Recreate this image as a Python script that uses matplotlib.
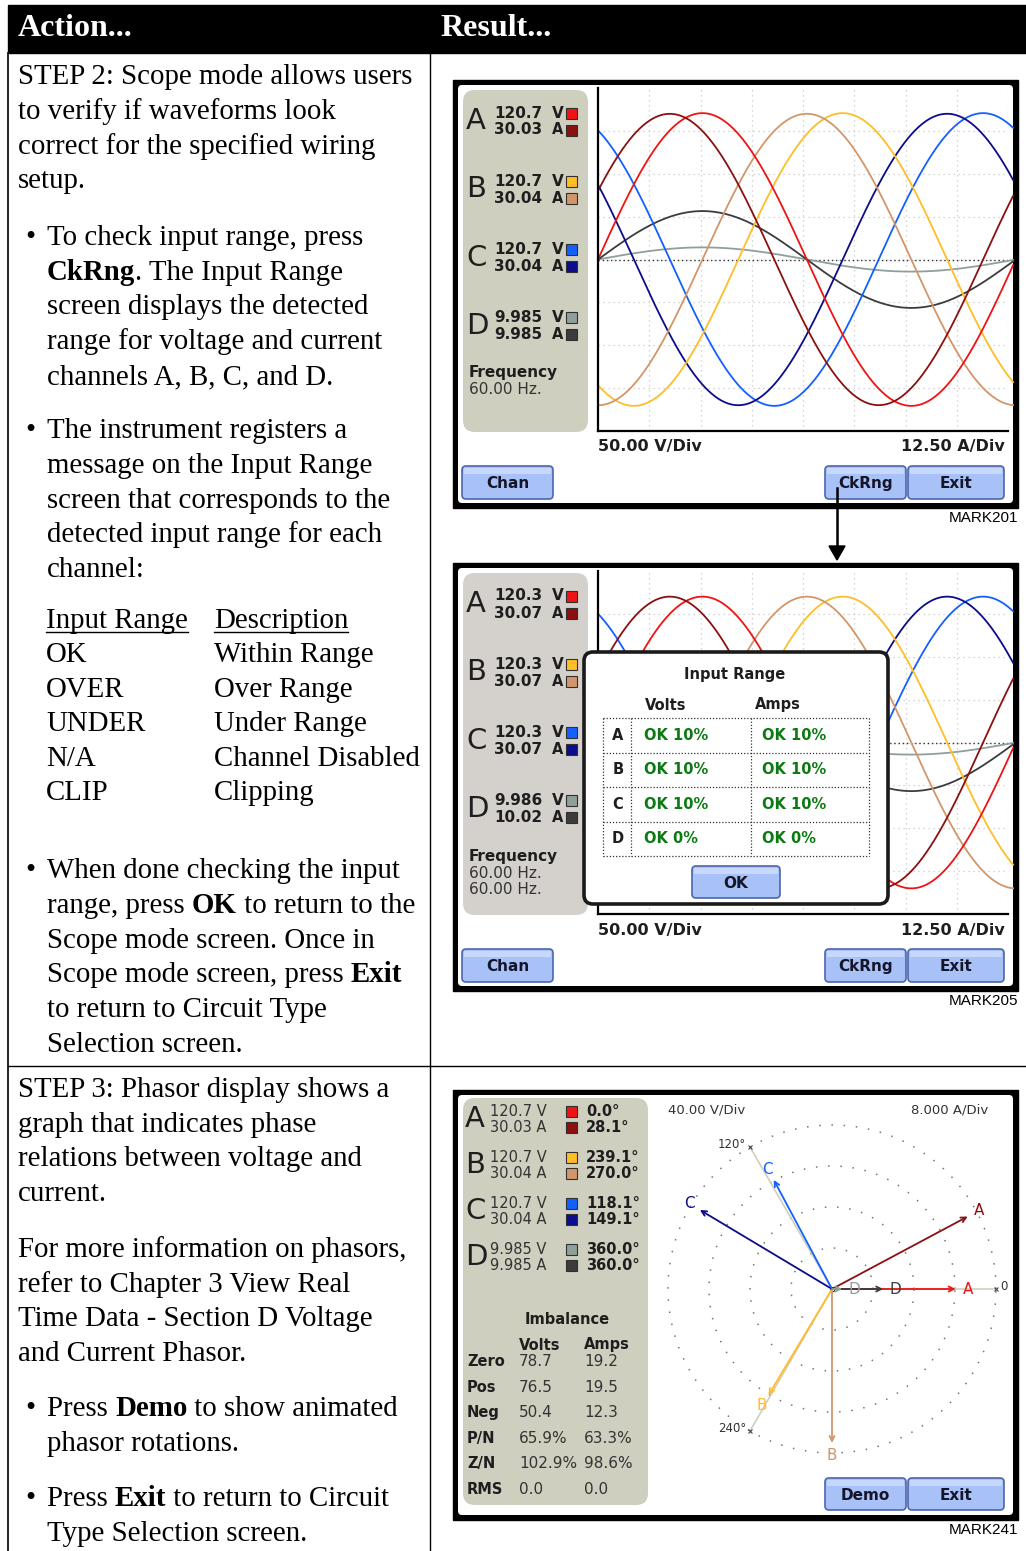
"""Manual page: scope / input range / phasor screens with the action text column."""
import numpy as np
import matplotlib.pyplot as plt
from matplotlib.patches import Rectangle, FancyBboxPatch

W, H = 1026, 1551
SERIF = "Liberation Serif"
SCREEN = "DejaVu Sans"
BODY = 20.8

# ---- action column text ----
STEP2_INTRO = ["STEP 2: Scope mode allows users", "to verify if waveforms look",
               "correct for the specified wiring", "setup."]
BULLET_CKRNG = [[("To check input range, press", False)],
                [("CkRng", True), (". The Input Range", False)],
                "screen displays the detected", "range for voltage and current",
                "channels A, B, C, and D."]
BULLET_MSG = ["The instrument registers a", "message on the Input Range",
              "screen that corresponds to the", "detected input range for each", "channel:"]
RANGE_CODES = ["OK", "OVER", "UNDER", "N/A", "CLIP"]
RANGE_DESC = ["Within Range", "Over Range", "Under Range", "Channel Disabled", "Clipping"]
BULLET_DONE = ["When done checking the input",
               [("range, press ", False), ("OK", True), (" to return to the", False)],
               "Scope mode screen. Once in",
               [("Scope mode screen, press ", False), ("Exit", True)],
               "to return to Circuit Type", "Selection screen."]
STEP3_INTRO = ["STEP 3: Phasor display shows a", "graph that indicates phase",
               "relations between voltage and", "current."]
STEP3_MORE = ["For more information on phasors,", "refer to Chapter 3 View Real",
              "Time Data - Section D Voltage", "and Current Phasor."]
BULLET_DEMO = [[("Press ", False), ("Demo", True), (" to show animated", False)], "phasor rotations."]
BULLET_EXIT = [[("Press ", False), ("Exit", True), (" to return to Circuit", False)],
               "Type Selection screen."]

# ---- instrument readings ----
CHANNELS = ["A", "B", "C", "D"]
SCOPE1_VOLTS = ["120.7", "120.7", "120.7", "9.985"]
SCOPE1_AMPS = ["30.03", "30.04", "30.04", "9.985"]
SCOPE2_VOLTS = ["120.3", "120.3", "120.3", "9.986"]
SCOPE2_AMPS = ["30.07", "30.07", "30.07", "10.02"]
V_ANGLE = [0.0, 239.1, 118.1, 360.0]
I_ANGLE = [28.1, 270.0, 149.1, 360.0]
SCOPE_V_DIV, SCOPE_A_DIV = 50.0, 12.50
PHASOR_V_DIV, PHASOR_A_DIV = 40.0, 8.000
RANGE_VOLTS = ["OK 10%", "OK 10%", "OK 10%", "OK 0%"]
RANGE_AMPS = ["OK 10%", "OK 10%", "OK 10%", "OK 0%"]
IMB_ROWS = ["Zero", "Pos", "Neg", "P/N", "Z/N", "RMS"]
IMB_VOLTS = ["78.7", "76.5", "50.4", "65.9%", "102.9%", "0.0"]
IMB_AMPS = ["19.2", "19.5", "12.3", "63.3%", "98.6%", "0.0"]

V_COLORS = ["#ee1414", "#ffbe28", "#1460ff", "#8fa09c"]
I_COLORS = ["#8c1010", "#d2966a", "#0c0c8c", "#3c3c3c"]
TXT = "#1e1e1e"

fig = plt.figure(figsize=(W / 100, H / 100), dpi=100)
page = fig.add_axes([0, 0, 1, 1])
page.set_xlim(0, W); page.set_ylim(H, 0); page.axis("off")


def px_axes(x0, y0, x1, y1):
    return fig.add_axes([x0 / W, 1 - y1 / H, (x1 - x0) / W, (y1 - y0) / H])


renderer = fig.canvas.get_renderer()


def rich(ax, x, y, parts, size=BODY):
    if isinstance(parts, str):
        parts = [(parts, False)]
    for s, bold in parts:
        t = ax.text(x, y, s, fontsize=size, family=SERIF, color="black",
                    fontweight="bold" if bold else "normal", va="baseline")
        x += t.get_window_extent(renderer=renderer).width
    return x


def block(lines, y0, x=18, bullet=False, step=34.75):
    if bullet:
        page.text(25, y0, "\u2022", fontsize=BODY, family=SERIF, va="baseline")
        x = 47
    for i, ln in enumerate(lines):
        rich(page, x, y0 + i * step, ln)


# ---- table frame ----
page.add_patch(Rectangle((8, 5), W - 8, 48, color="black"))
page.text(18, 29, "Action...", color="white", fontsize=23, fontweight="bold",
          family=SERIF, va="center")
page.text(440, 29, "Result...", color="white", fontsize=23, fontweight="bold",
          family=SERIF, va="center")
page.plot([8, 8], [53, H], color="black", lw=1.2)
page.plot([430, 430], [53, H], color="black", lw=1.0)
page.plot([8, W], [1066, 1066], color="black", lw=1.0)

block(STEP2_INTRO, 84)
block(BULLET_CKRNG, 245, bullet=True)
block(BULLET_MSG, 438, bullet=True)
x_end = rich(page, 46, 628, "Input Range")
page.plot([46, x_end], [632, 632], color="black", lw=1)
x_end = rich(page, 214, 628, "Description")
page.plot([214, x_end], [632, 632], color="black", lw=1)
for i, (c, d) in enumerate(zip(RANGE_CODES, RANGE_DESC)):
    rich(page, 46, 662 + i * 34.6, c)
    rich(page, 214, 662 + i * 34.6, d)
block(BULLET_DONE, 878, bullet=True)
block(STEP3_INTRO, 1097)
block(STEP3_MORE, 1257)
block(BULLET_DEMO, 1416, bullet=True)
block(BULLET_EXIT, 1506, bullet=True)


# ---- screen helpers ----
def rounded(ax, x0, y0, x1, y1, r, **kw):
    ax.add_patch(FancyBboxPatch((x0 + r, y0 + r), x1 - x0 - 2 * r, y1 - y0 - 2 * r,
                                boxstyle=f"round,pad={r}", **kw))


def frame(y0, y1, mark):
    page.add_patch(Rectangle((453, y0), 565, y1 - y0, color="black"))
    rounded(page, 458, y0 + 5, 1013, y1 - 5, 4, fc="white", ec="none")
    page.text(1018, y1 + 10, mark, ha="right", va="center", fontsize=11,
              family="Liberation Sans")


def button(ax, x0, y0, x1, y1, label):
    rounded(ax, x0, y0, x1, y1, 4, fc="#a8c1f7", ec="#4d66ac", lw=1.2)
    ax.add_patch(Rectangle((x0 + 2, y0 + 2), x1 - x0 - 4, 6, fc="#c8d8fc", ec="none"))
    ax.text((x0 + x1) / 2, (y0 + y1) / 2 + 1, label, ha="center", va="center",
            fontsize=11, fontweight="bold", family=SCREEN, color="#15152a")


def swatch(ax, x, yc, color):
    ax.add_patch(Rectangle((x, yc - 5.5), 11, 11, fc=color, ec="#303030", lw=0.8))


def scope_screen(y0, volts, amps, mark, panel_color, freq_lines):
    frame(y0, y0 + 428, mark)
    rounded(page, 463, y0 + 10, 588, y0 + 352, 12, fc=panel_color, ec="none")
    for k, ch in enumerate(CHANNELS):
        yv = y0 + 33 + k * 68.3
        page.text(466, yv + 8, ch, fontsize=21, family=SCREEN, color=TXT, va="center")
        page.text(494, yv, volts[k], fontsize=11, fontweight="bold", family=SCREEN,
                  color=TXT, va="center")
        page.text(494, yv + 17, amps[k], fontsize=11, fontweight="bold", family=SCREEN,
                  color=TXT, va="center")
        page.text(552, yv, "V", fontsize=11, fontweight="bold", family=SCREEN,
                  color=TXT, va="center")
        page.text(552, yv + 17, "A", fontsize=10.5, fontweight="bold", family=SCREEN,
                  color=TXT, va="center")
        swatch(page, 566, yv, V_COLORS[k])
        swatch(page, 566, yv + 17, I_COLORS[k])
    page.text(469, y0 + 293, "Frequency", fontsize=11, fontweight="bold",
              family=SCREEN, color=TXT, va="center")
    for j, fl in enumerate(freq_lines):
        page.text(469, y0 + 310 + j * 17, fl, fontsize=11, family=SCREEN,
                  color="#333333", va="center")
    page.text(598, y0 + 367, f"{SCOPE_V_DIV:.2f} V/Div", fontsize=11.5,
              fontweight="bold", family=SCREEN, color=TXT, va="center")
    page.text(1005, y0 + 367, f"{SCOPE_A_DIV:.2f} A/Div", fontsize=11.5,
              fontweight="bold", family=SCREEN, color=TXT, va="center", ha="right")
    button(page, 462, y0 + 386, 553, y0 + 419, "Chan")
    button(page, 825, y0 + 386, 906, y0 + 419, "CkRng")
    button(page, 908, y0 + 386, 1004, y0 + 419, "Exit")

    ax = px_axes(598, y0 + 8, 1008, y0 + 351)
    ax.set_xlim(0, 8); ax.set_ylim(-4, 4)
    ax.set_xticks(np.arange(1, 9)); ax.set_yticks(np.arange(-3, 4))
    ax.tick_params(length=0, labelbottom=False, labelleft=False)
    ax.grid(True, color="#c8c8c8", ls=(0, (1, 3)), lw=0.9)
    for s in ("top", "right"):
        ax.spines[s].set_visible(False)
    for s in ("left", "bottom"):
        ax.spines[s].set_linewidth(1.6)
    ax.axhline(0, color="#333333", ls=(0, (1, 2)), lw=1)
    t = np.linspace(0, 8.1, 500)
    period = 8.15  # divisions per 60 Hz cycle
    for k in (3, 2, 1, 0):
        for val, ang, scale, col in ((float(volts[k]), V_ANGLE[k], SCOPE_V_DIV, V_COLORS[k]),
                                     (float(amps[k]), I_ANGLE[k], SCOPE_A_DIV, I_COLORS[k])):
            ax.plot(t, np.sqrt(2) * val / scale *
                    np.sin(2 * np.pi * t / period + np.radians(ang)),
                    color=col, lw=1.3, clip_on=False)
    return ax


scope_screen(80, SCOPE1_VOLTS, SCOPE1_AMPS, "MARK201", "#cfcfc0", ["60.00 Hz."])
scope_screen(563, SCOPE2_VOLTS, SCOPE2_AMPS, "MARK205", "#d4d0cc",
             ["60.00 Hz.", "60.00 Hz."])

# arrow between screens
page.plot([837, 837], [488, 548], color="black", lw=1.8)
page.fill([829, 845, 837], [546, 546, 560], color="black")

# ---- phasor screen ----
Y3 = 1090
frame(Y3, Y3 + 430, "MARK241")
rounded(page, 463, Y3 + 8, 648, Y3 + 415, 12, fc="#cfcfc0", ec="none")
for k, ch in enumerate(CHANNELS):
    yv = Y3 + 21 + k * 46
    page.text(465, yv + 8, ch, fontsize=21, family=SCREEN, color=TXT, va="center")
    page.text(490, yv, f"{SCOPE1_VOLTS[k]} V", fontsize=10.5, family=SCREEN,
              color="#333333", va="center")
    page.text(490, yv + 16, f"{SCOPE1_AMPS[k]} A", fontsize=10.5, family=SCREEN,
              color="#333333", va="center")
    swatch(page, 566, yv, V_COLORS[k])
    swatch(page, 566, yv + 16, I_COLORS[k])
    page.text(586, yv, f"{V_ANGLE[k]:.1f}\u00b0", fontsize=10.5, fontweight="bold",
              family=SCREEN, color=TXT, va="center")
    page.text(586, yv + 16, f"{I_ANGLE[k]:.1f}\u00b0", fontsize=10.5, fontweight="bold",
              family=SCREEN, color=TXT, va="center")
page.text(567, Y3 + 230, "Imbalance", fontsize=10.5, fontweight="bold", family=SCREEN,
          color=TXT, va="center", ha="center")
page.text(519, Y3 + 255, "Volts", fontsize=10.5, fontweight="bold", family=SCREEN,
          color=TXT, va="center")
page.text(584, Y3 + 255, "Amps", fontsize=10.5, fontweight="bold", family=SCREEN,
          color=TXT, va="center")
for i, (r, v, a) in enumerate(zip(IMB_ROWS, IMB_VOLTS, IMB_AMPS)):
    yy = Y3 + 272 + i * 25.4
    page.text(467, yy, r, fontsize=10.5, fontweight="bold", family=SCREEN, color=TXT,
              va="center")
    page.text(519, yy, v, fontsize=11, family=SCREEN, color="#333333", va="center")
    page.text(584, yy, a, fontsize=11, family=SCREEN, color="#333333", va="center")
page.text(668, Y3 + 20, f"{PHASOR_V_DIV:.2f} V/Div", fontsize=9.5, family=SCREEN,
          color="#333333", va="center")
page.text(988, Y3 + 20, f"{PHASOR_A_DIV:.3f} A/Div", fontsize=9.5, family=SCREEN,
          color="#333333", va="center", ha="right")
button(page, 825, Y3 + 388, 906, Y3 + 420, "Demo")
button(page, 908, Y3 + 388, 1004, Y3 + 420, "Exit")

cx, cy, half = 832, 1289, 180
div_px = 41.0
pax = px_axes(cx - half, cy - half, cx + half, cy + half)
R = half / div_px
pax.set_xlim(-R, R); pax.set_ylim(-R, R); pax.axis("off")
th = np.linspace(0, 2 * np.pi, 400)
for ring in (1, 2, 3, 4):
    pax.plot(ring * np.cos(th), ring * np.sin(th), color="#777777",
             ls=(0, (1, 7)), lw=1.1)
for ang, lab, ha in ((0, "0", "left"), (120, "120\u00b0", "right"), (240, "240\u00b0", "right")):
    c, s = np.cos(np.radians(ang)), np.sin(np.radians(ang))
    pax.plot([0, 4 * c], [0, 4 * s], color="#cfcfbc", lw=1.2)
    pax.plot(4 * c, 4 * s, marker="x", ms=3, color="#444444", mew=0.8)
    pax.text(4 * c + (0.1 if ha == "left" else -0.1), 4 * s + 0.05, lab, fontsize=8.5,
             family=SCREEN, color="#333333", ha=ha, va="center")
for k, ch in enumerate(CHANNELS):
    for val, ang, scale, col in ((float(SCOPE1_AMPS[k]), I_ANGLE[k], PHASOR_A_DIV, I_COLORS[k]),
                                 (float(SCOPE1_VOLTS[k]), V_ANGLE[k], PHASOR_V_DIV, V_COLORS[k])):
        m = val / scale
        c, s = np.cos(np.radians(ang)), np.sin(np.radians(ang))
        pax.annotate("", xy=(m * c, m * s), xytext=(0, 0),
                     arrowprops=dict(arrowstyle="->", color=col, lw=1.3,
                                     shrinkA=0, shrinkB=0, mutation_scale=9))
        pax.text((m + 0.3) * c, (m + 0.3) * s, ch, fontsize=11, family=SCREEN,
                 color=col, ha="center", va="center")
pax.plot(0, 0, marker="s", ms=3, mfc="none", mec="#333333", mew=0.8)

# ---- input range dialog over the second scope screen ----
top = fig.add_axes([0, 0, 1, 1])
top.set_xlim(0, W); top.set_ylim(H, 0); top.axis("off")
rounded(top, 584, 652, 888, 904, 9, fc="white", ec="#1a1a1a", lw=2.6)
top.text(735, 675, "Input Range", fontsize=10.5, fontweight="bold", family=SCREEN,
         color=TXT, ha="center", va="center")
top.text(666, 705, "Volts", fontsize=10.5, fontweight="bold", family=SCREEN,
         color=TXT, ha="center", va="center")
top.text(778, 705, "Amps", fontsize=10.5, fontweight="bold", family=SCREEN,
         color=TXT, ha="center", va="center")
rows_y = [718, 752.5, 787, 821.5, 856]
for yy in rows_y:
    top.plot([603, 869], [yy, yy], color="#333333", ls=(0, (1, 1.5)), lw=0.9)
for xx in (603, 631, 751, 869):
    top.plot([xx, xx], [718, 856], color="#333333", ls=(0, (1, 1.5)), lw=0.9)
for k, ch in enumerate(CHANNELS):
    yy = (rows_y[k] + rows_y[k + 1]) / 2
    top.text(618, yy, ch, fontsize=10.5, fontweight="bold", family=SCREEN, color=TXT,
             ha="center", va="center")
    top.text(644, yy, RANGE_VOLTS[k], fontsize=10.5, fontweight="bold", family=SCREEN,
             color="#0b7a12", va="center")
    top.text(762, yy, RANGE_AMPS[k], fontsize=10.5, fontweight="bold", family=SCREEN,
             color="#0b7a12", va="center")
button(top, 692, 866, 780, 898, "OK")

fig.savefig("out.png", dpi=100)
